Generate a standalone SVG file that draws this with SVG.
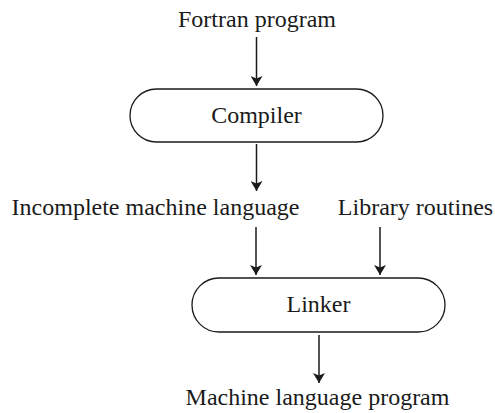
<svg xmlns="http://www.w3.org/2000/svg" width="495" height="413" viewBox="0 0 495 413">
<style>
text{font-family:"Liberation Serif","Times New Roman",serif;font-size:24px;fill:#1a1a1a;text-anchor:middle}
.pill{fill:#fff;stroke:#1a1a1a;stroke-width:1.3}
.conn line{stroke:#1a1a1a;stroke-width:1.5}
</style>
<defs>
<marker id="ah" viewBox="0 0 10 12" refX="10" refY="6" markerWidth="10" markerHeight="12" markerUnits="userSpaceOnUse" orient="auto">
<path d="M0,0 L10,6 L0,12 L2.5,6 Z" fill="#1a1a1a"/>
</marker>
</defs>
<rect width="495" height="413" fill="#fff"/>
<g id="fortran"><text x="257" y="26.5">Fortran program</text></g>
<g id="compiler"><rect class="pill" x="130" y="89" width="253" height="53" rx="26.5"/><text x="256.5" y="123">Compiler</text></g>
<g id="incomplete"><text x="155.5" y="215">Incomplete machine language</text></g>
<g id="library"><text x="415.5" y="215">Library routines</text></g>
<g id="linker"><rect class="pill" x="192" y="278" width="253" height="54" rx="27"/><text x="318.5" y="312">Linker</text></g>
<g id="machine"><text x="317.5" y="405">Machine language program</text></g>
<g class="conn" id="connectors">
<line x1="256.5" y1="37" x2="256.5" y2="86" marker-end="url(#ah)"/>
<line x1="256.5" y1="144" x2="256.5" y2="191" marker-end="url(#ah)"/>
<line x1="256" y1="227" x2="256" y2="275" marker-end="url(#ah)"/>
<line x1="380" y1="227" x2="380" y2="275" marker-end="url(#ah)"/>
<line x1="319" y1="335" x2="319" y2="383" marker-end="url(#ah)"/>
</g>
</svg>
